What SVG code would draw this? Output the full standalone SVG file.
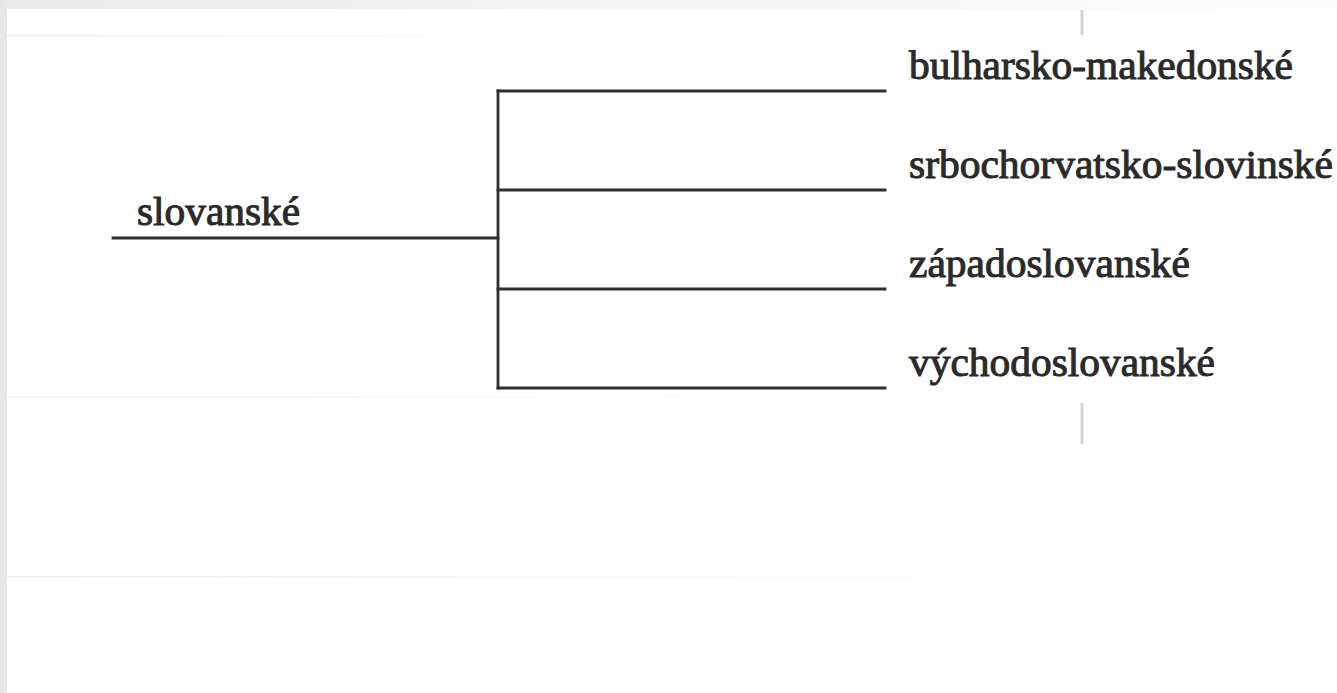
<svg xmlns="http://www.w3.org/2000/svg" width="1337" height="693" viewBox="0 0 1337 693">
<defs>
<linearGradient id="topg" x1="0" y1="0" x2="1" y2="0">
<stop offset="0" stop-color="#eaeaea"/>
<stop offset="1" stop-color="#fdfdfd"/>
</linearGradient>
<linearGradient id="fade" x1="0" y1="0" x2="1" y2="0">
<stop offset="0" stop-color="#ececec"/>
<stop offset="1" stop-color="#ececec" stop-opacity="0"/>
</linearGradient>
<style>
.lbl{font-family:'Liberation Serif','DejaVu Serif',serif;font-size:40px;fill:#2a2a2a;stroke:#2a2a2a;stroke-width:1;paint-order:stroke}
.ln{stroke:#2e2e2e;stroke-width:2.8;fill:none;stroke-linecap:square}
.mark{stroke:#d4d4d4;stroke-width:3}
</style>
</defs>
<g id="background">
<rect x="0" y="0" width="1337" height="693" fill="#ffffff"/>
<rect x="0" y="0" width="1337" height="9" fill="url(#topg)"/>
<rect x="0" y="0" width="7" height="693" fill="#e7e7e7"/>
<rect x="7" y="35" width="500" height="1.5" fill="url(#fade)"/>
<rect x="7" y="396" width="840" height="1.5" fill="url(#fade)"/>
<rect x="7" y="576" width="1060" height="1.5" fill="url(#fade)"/>
<line class="mark" x1="1082" y1="10" x2="1082" y2="35"/>
<line class="mark" x1="1082" y1="403" x2="1082" y2="444"/>
</g>
<g id="connectors">
<path class="ln" d="M113 238 H498"/>
<path class="ln" d="M498 91 V388"/>
<path class="ln" d="M498 91 H885"/>
<path class="ln" d="M498 190 H885"/>
<path class="ln" d="M498 289 H885"/>
<path class="ln" d="M498 388 H885"/>
</g>
<g id="node-slovanske">
<text class="lbl" x="137" y="225" textLength="163" lengthAdjust="spacingAndGlyphs">slovanské</text>
</g>
<g id="node-bulharsko-makedonske">
<text class="lbl" x="909" y="79" textLength="384" lengthAdjust="spacingAndGlyphs">bulharsko-makedonské</text>
</g>
<g id="node-srbochorvatsko-slovinske">
<text class="lbl" x="909" y="178" textLength="424" lengthAdjust="spacingAndGlyphs">srbochorvatsko-slovinské</text>
</g>
<g id="node-zapadoslovanske">
<text class="lbl" x="909" y="277" textLength="281" lengthAdjust="spacingAndGlyphs">západoslovanské</text>
</g>
<g id="node-vychodoslovanske">
<text class="lbl" x="909" y="376" textLength="306" lengthAdjust="spacingAndGlyphs">východoslovanské</text>
</g>
</svg>
